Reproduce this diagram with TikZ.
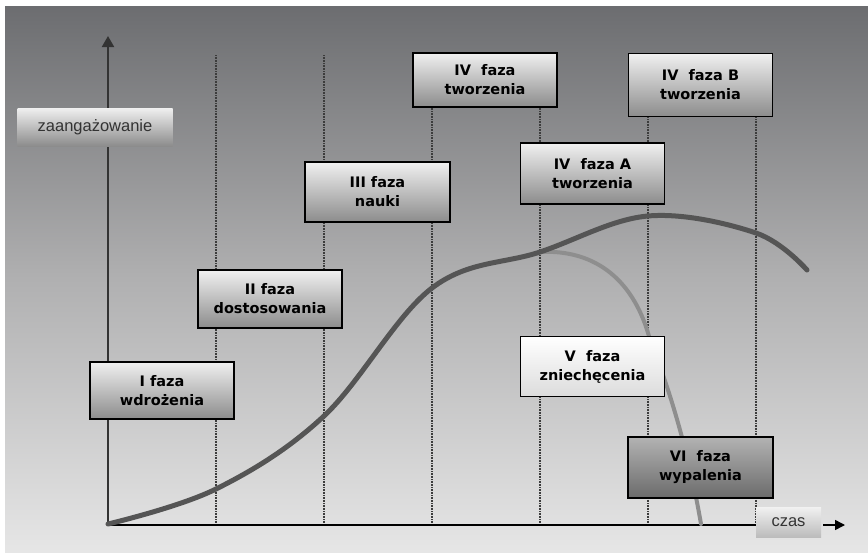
\documentclass[tikz,border=0pt]{standalone}
\usepackage{fontspec}
\setmainfont{DejaVu Sans}
\newfontfamily\lsans{Liberation Sans}
\usetikzlibrary{arrows.meta}
\definecolor{bgtop}{HTML}{6C6D70}
\definecolor{bgmid}{HTML}{B0B0B1}
\definecolor{bgbot}{HTML}{E6E6E6}
\definecolor{boxtop}{HTML}{F0F0F0}
\definecolor{boxbot}{HTML}{8C8C8C}
\definecolor{boxlight}{HTML}{DCDCDC}
\definecolor{curvemain}{HTML}{555555}
\definecolor{curvebranch}{HTML}{8E8E8E}
\definecolor{guide}{HTML}{3C3C3C}
\tikzset{
  phase/.style={draw=black, line width=1.2pt, top color=boxtop, bottom color=boxbot,
    minimum width=144pt, inner sep=0pt, align=center,
    font=\bfseries\fontsize{14.5}{19}\selectfont},
  axislabel/.style={inner sep=0pt, text=black!80, font=\lsans\fontsize{16.5}{18}\selectfont},
  guideline/.style={guide, line width=1.3pt, dash pattern=on 0.8pt off 0.8pt},
}
\begin{document}
\begin{tikzpicture}[x=1pt,y=-1pt]
\useasboundingbox (0,0) rectangle (868,552);
\fill[white] (0,0) rectangle (868,552);
\fill[top color=bgtop, bottom color=bgbot, middle color=bgmid] (5,6) rectangle (868,552);
% guide lines
\foreach \gx in {216,324,432,540,648,756}
  \draw[guideline] (\gx,55) -- (\gx,524);
% axes
\coordinate (O) at (108,525);
\coordinate (ytop) at (108,36);
\coordinate (xend) at (756,525);
\draw[black!80, line width=2pt, -{Triangle[width=12pt,length=11pt]}] (O) -- (ytop);
\draw[black, line width=1.5pt] (O) -- (xend);
% curves
\coordinate (bs) at (540,252);
\coordinate (bm) at (650,340);
\coordinate (be) at (701,524);
\draw[curvebranch, line width=4pt, line cap=round]
  (bs) .. controls (597,249) and (635,282) .. (bm)
       .. controls (672,395) and (690,460) .. (be);
\draw[curvemain, line width=5pt, line cap=round] plot[smooth, tension=0.6] coordinates
  {(108,524) (216,489) (324,416) (432,288) (540,252) (648,216) (756,233) (807,270)};
% axis labels
\node[axislabel, minimum width=155pt, minimum height=38pt, top color=boxtop, bottom color=boxbot] (ylab) at (95,127) {zaangażowanie};
\node[axislabel, minimum width=65pt, minimum height=30pt, top color=boxtop, bottom color=boxlight!85!black] (xlab) at (788.5,522.5) {czas};
\coordinate (xs) at (823,525);
\coordinate (xtip) at (845,525);
\draw[black, line width=1.5pt, -{Triangle[width=10pt,length=10pt]}] (xs) -- (xtip);
% phase boxes
\node[phase, minimum height=57pt] (p1) at (162,390.5) {I faza\\wdrożenia};
\node[phase, minimum height=58pt] (p2) at (270,299) {II faza\\dostosowania};
\node[phase, minimum width=145pt, minimum height=60pt] (p3) at (377.5,192) {III faza\\nauki};
\node[phase, minimum height=54pt] (p4) at (485,80) {IV\ \ faza\\tworzenia};
\node[phase, minimum height=61pt] (p4a) at (592.5,173.5) {IV\ \ faza A\\tworzenia};
\node[phase, minimum height=63pt] (p4b) at (700.5,85) {IV\ \ faza B\\tworzenia};
\node[phase, top color=white, bottom color=boxlight, minimum height=60pt] (p5) at (592.5,366.5) {V\ \ faza\\zniechęcenia};
\node[phase, top color=black!30, bottom color=black!58, minimum width=145pt, minimum height=61pt] (p6) at (700.5,467.5) {VI\ \ faza\\wypalenia};
\end{tikzpicture}
\end{document}
